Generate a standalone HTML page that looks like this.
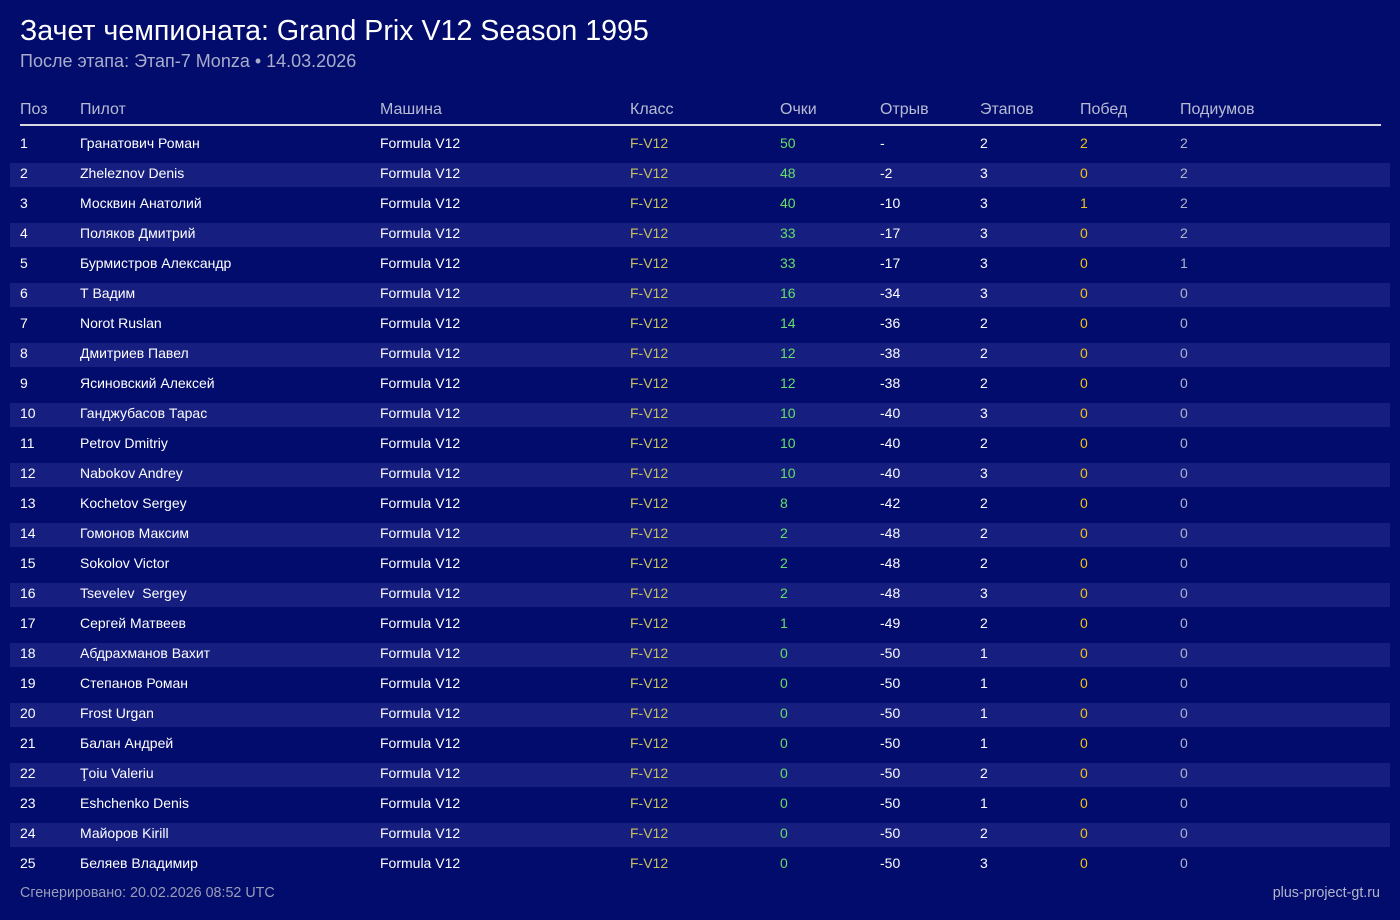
<!DOCTYPE html>
<html><head><meta charset="utf-8">
<style>
html,body{margin:0;padding:0}
body{width:1400px;height:920px;background:#020c6c;font-family:"Liberation Sans",sans-serif;position:relative;overflow:hidden;color:#fff}
.t{position:absolute;left:20px;top:15px;font-size:28.6px;color:#fff;white-space:nowrap}
.s{position:absolute;left:20px;top:51px;font-size:18px;color:#a9accb;white-space:nowrap}
.h{position:absolute;top:101px;font-size:16px;color:#b8bbd2}
.line{position:absolute;left:20px;top:124px;width:1361px;height:2px;background:#d8d8e0}
.r{position:absolute;left:0;width:1400px;height:30px;font-size:14px;line-height:30px}
.r.z::before{content:"";position:absolute;left:10px;top:5px;width:1380px;height:24px;background:#161e80}
.r span{position:absolute;white-space:pre}
.c0{left:20px}.c1{left:80px}.c2{left:380px}.c3{left:630px;color:#c8c060}.c4{left:780px;color:#66e066}.c5{left:880px}.c6{left:980px}.c7{left:1080px;color:#f2c418}.c8{left:1180px;color:#b2b5cc}
.f{position:absolute;top:885px;font-size:14.3px;color:#9a9db8}
</style></head><body>
<div class="t">Зачет чемпионата: Grand Prix V12 Season 1995</div>
<div class="s">После этапа: Этап-7 Monza • 14.03.2026</div>
<div class="h" style="left:20px">Поз</div><div class="h" style="left:80px">Пилот</div><div class="h" style="left:380px">Машина</div><div class="h" style="left:630px">Класс</div><div class="h" style="left:780px">Очки</div><div class="h" style="left:880px">Отрыв</div><div class="h" style="left:980px">Этапов</div><div class="h" style="left:1080px">Побед</div><div class="h" style="left:1180px">Подиумов</div>
<div class="line"></div>
<div class="r" style="top:128px"><span class="c0">1</span><span class="c1">Гранатович Роман</span><span class="c2">Formula V12</span><span class="c3">F-V12</span><span class="c4">50</span><span class="c5">-</span><span class="c6">2</span><span class="c7">2</span><span class="c8">2</span></div>
<div class="r z" style="top:158px"><span class="c0">2</span><span class="c1">Zheleznov Denis</span><span class="c2">Formula V12</span><span class="c3">F-V12</span><span class="c4">48</span><span class="c5">-2</span><span class="c6">3</span><span class="c7">0</span><span class="c8">2</span></div>
<div class="r" style="top:188px"><span class="c0">3</span><span class="c1">Москвин Анатолий</span><span class="c2">Formula V12</span><span class="c3">F-V12</span><span class="c4">40</span><span class="c5">-10</span><span class="c6">3</span><span class="c7">1</span><span class="c8">2</span></div>
<div class="r z" style="top:218px"><span class="c0">4</span><span class="c1">Поляков Дмитрий</span><span class="c2">Formula V12</span><span class="c3">F-V12</span><span class="c4">33</span><span class="c5">-17</span><span class="c6">3</span><span class="c7">0</span><span class="c8">2</span></div>
<div class="r" style="top:248px"><span class="c0">5</span><span class="c1">Бурмистров Александр</span><span class="c2">Formula V12</span><span class="c3">F-V12</span><span class="c4">33</span><span class="c5">-17</span><span class="c6">3</span><span class="c7">0</span><span class="c8">1</span></div>
<div class="r z" style="top:278px"><span class="c0">6</span><span class="c1">Т Вадим</span><span class="c2">Formula V12</span><span class="c3">F-V12</span><span class="c4">16</span><span class="c5">-34</span><span class="c6">3</span><span class="c7">0</span><span class="c8">0</span></div>
<div class="r" style="top:308px"><span class="c0">7</span><span class="c1">Norot Ruslan</span><span class="c2">Formula V12</span><span class="c3">F-V12</span><span class="c4">14</span><span class="c5">-36</span><span class="c6">2</span><span class="c7">0</span><span class="c8">0</span></div>
<div class="r z" style="top:338px"><span class="c0">8</span><span class="c1">Дмитриев Павел</span><span class="c2">Formula V12</span><span class="c3">F-V12</span><span class="c4">12</span><span class="c5">-38</span><span class="c6">2</span><span class="c7">0</span><span class="c8">0</span></div>
<div class="r" style="top:368px"><span class="c0">9</span><span class="c1">Ясиновский Алексей</span><span class="c2">Formula V12</span><span class="c3">F-V12</span><span class="c4">12</span><span class="c5">-38</span><span class="c6">2</span><span class="c7">0</span><span class="c8">0</span></div>
<div class="r z" style="top:398px"><span class="c0">10</span><span class="c1">Ганджубасов Тарас</span><span class="c2">Formula V12</span><span class="c3">F-V12</span><span class="c4">10</span><span class="c5">-40</span><span class="c6">3</span><span class="c7">0</span><span class="c8">0</span></div>
<div class="r" style="top:428px"><span class="c0">11</span><span class="c1">Petrov Dmitriy</span><span class="c2">Formula V12</span><span class="c3">F-V12</span><span class="c4">10</span><span class="c5">-40</span><span class="c6">2</span><span class="c7">0</span><span class="c8">0</span></div>
<div class="r z" style="top:458px"><span class="c0">12</span><span class="c1">Nabokov Andrey</span><span class="c2">Formula V12</span><span class="c3">F-V12</span><span class="c4">10</span><span class="c5">-40</span><span class="c6">3</span><span class="c7">0</span><span class="c8">0</span></div>
<div class="r" style="top:488px"><span class="c0">13</span><span class="c1">Kochetov Sergey</span><span class="c2">Formula V12</span><span class="c3">F-V12</span><span class="c4">8</span><span class="c5">-42</span><span class="c6">2</span><span class="c7">0</span><span class="c8">0</span></div>
<div class="r z" style="top:518px"><span class="c0">14</span><span class="c1">Гомонов Максим</span><span class="c2">Formula V12</span><span class="c3">F-V12</span><span class="c4">2</span><span class="c5">-48</span><span class="c6">2</span><span class="c7">0</span><span class="c8">0</span></div>
<div class="r" style="top:548px"><span class="c0">15</span><span class="c1">Sokolov Victor</span><span class="c2">Formula V12</span><span class="c3">F-V12</span><span class="c4">2</span><span class="c5">-48</span><span class="c6">2</span><span class="c7">0</span><span class="c8">0</span></div>
<div class="r z" style="top:578px"><span class="c0">16</span><span class="c1">Tsevelev  Sergey</span><span class="c2">Formula V12</span><span class="c3">F-V12</span><span class="c4">2</span><span class="c5">-48</span><span class="c6">3</span><span class="c7">0</span><span class="c8">0</span></div>
<div class="r" style="top:608px"><span class="c0">17</span><span class="c1">Сергей Матвеев</span><span class="c2">Formula V12</span><span class="c3">F-V12</span><span class="c4">1</span><span class="c5">-49</span><span class="c6">2</span><span class="c7">0</span><span class="c8">0</span></div>
<div class="r z" style="top:638px"><span class="c0">18</span><span class="c1">Абдрахманов Вахит</span><span class="c2">Formula V12</span><span class="c3">F-V12</span><span class="c4">0</span><span class="c5">-50</span><span class="c6">1</span><span class="c7">0</span><span class="c8">0</span></div>
<div class="r" style="top:668px"><span class="c0">19</span><span class="c1">Степанов Роман</span><span class="c2">Formula V12</span><span class="c3">F-V12</span><span class="c4">0</span><span class="c5">-50</span><span class="c6">1</span><span class="c7">0</span><span class="c8">0</span></div>
<div class="r z" style="top:698px"><span class="c0">20</span><span class="c1">Frost Urgan</span><span class="c2">Formula V12</span><span class="c3">F-V12</span><span class="c4">0</span><span class="c5">-50</span><span class="c6">1</span><span class="c7">0</span><span class="c8">0</span></div>
<div class="r" style="top:728px"><span class="c0">21</span><span class="c1">Балан Андрей</span><span class="c2">Formula V12</span><span class="c3">F-V12</span><span class="c4">0</span><span class="c5">-50</span><span class="c6">1</span><span class="c7">0</span><span class="c8">0</span></div>
<div class="r z" style="top:758px"><span class="c0">22</span><span class="c1">Ţoiu Valeriu</span><span class="c2">Formula V12</span><span class="c3">F-V12</span><span class="c4">0</span><span class="c5">-50</span><span class="c6">2</span><span class="c7">0</span><span class="c8">0</span></div>
<div class="r" style="top:788px"><span class="c0">23</span><span class="c1">Eshchenko Denis</span><span class="c2">Formula V12</span><span class="c3">F-V12</span><span class="c4">0</span><span class="c5">-50</span><span class="c6">1</span><span class="c7">0</span><span class="c8">0</span></div>
<div class="r z" style="top:818px"><span class="c0">24</span><span class="c1">Майоров Kirill</span><span class="c2">Formula V12</span><span class="c3">F-V12</span><span class="c4">0</span><span class="c5">-50</span><span class="c6">2</span><span class="c7">0</span><span class="c8">0</span></div>
<div class="r" style="top:848px"><span class="c0">25</span><span class="c1">Беляев Владимир</span><span class="c2">Formula V12</span><span class="c3">F-V12</span><span class="c4">0</span><span class="c5">-50</span><span class="c6">3</span><span class="c7">0</span><span class="c8">0</span></div>
<div class="f" style="left:20px">Сгенерировано: 20.02.2026 08:52 UTC</div>
<div class="f" style="right:20px;color:#b2b5cc">plus-project-gt.ru</div>
</body></html>
